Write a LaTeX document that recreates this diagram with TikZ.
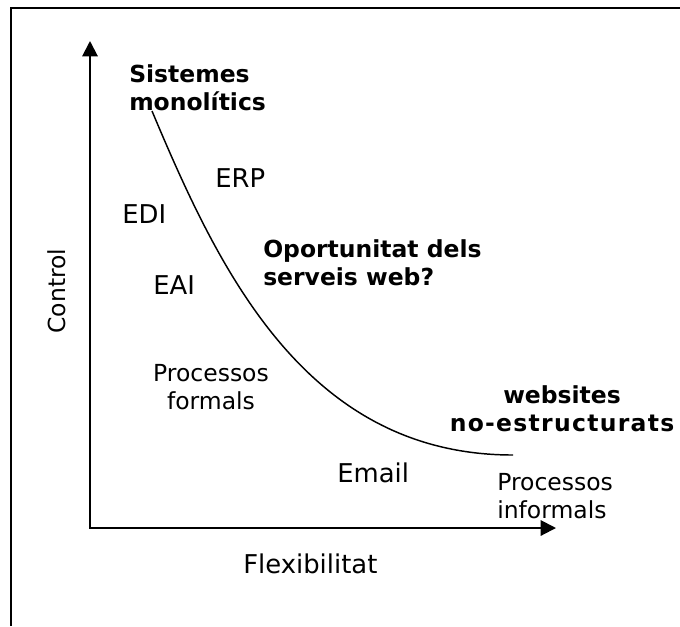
\documentclass[tikz,border=0pt]{standalone}
\usepackage{fontspec}
\setmainfont{DejaVu Sans}
\usetikzlibrary{arrows.meta}
\newcommand{\twol}[3]{\begin{tabular}[t]{@{}#1@{}}#2\\#3\end{tabular}}
\begin{document}
\begin{tikzpicture}[x=0.75pt,y=-0.75pt,
  lbl/.style={inner sep=0pt, anchor=base west},
  big/.style={font=\fontsize{19.4}{23}\selectfont},
  small/.style={font=\fontsize{17.6}{21}\selectfont},
  bld/.style={font=\fontsize{17.6}{21}\selectfont\bfseries},
  frame/.style={line width=1.5pt},
  axis/.style={line width=1.5pt, {Triangle[length=11.5pt,width=11.5pt]}-{Triangle[length=11.5pt,width=11.5pt]}},
  curve/.style={line width=1.1pt}]
\useasboundingbox (0,0) rectangle (680,626);
% frame (cropped box)
\coordinate (fbl) at (11,626);
\coordinate (ftl) at (11,8);
\coordinate (ftr) at (680,8);
\draw[frame] (fbl) -- (ftl) -- (ftr);
% axes
\coordinate (O) at (90,528);
\coordinate (ytip) at (90,41);
\coordinate (xtip) at (556,528);
\draw[axis] (ytip) -- (O) -- (xtip);
% curve
\coordinate (c0) at (152,111);
\coordinate (c1) at (513,455);
\draw[curve] (c0) .. controls (218,268) and (305,455) .. (c1);
% labels
\node[lbl,bld] (sis) at (129,82) {\twol{l}{Sistemes}{monolítics}};
\node[lbl,big] (erp) at (215,187) {ERP};
\node[lbl,big] (edi) at (122,223) {EDI};
\node[lbl,big] (eai) at (153,294) {EAI};
\node[lbl,bld] (opo) at (263,257) {\twol{l}{Oportunitat dels}{serveis web?}};
\node[small,inner sep=0pt,anchor=base] (pf) at (211,381) {\twol{c}{Processos}{formals}};
\node[bld,inner sep=0pt,anchor=base] (web) at (562,403) {\twol{c}{websites}{\addfontfeature{LetterSpace=5.5}no-estructurats}};
\node[lbl,big] (email) at (337,482) {Email};
\node[lbl,small] (pi) at (497,490) {\twol{l}{Processos}{informals}};
\node[lbl,big] (flex) at (243,573) {Flexibilitat};
\node[small,inner sep=0pt,rotate=90,anchor=base] (ctl) at (65,291) {Control};
\end{tikzpicture}
\end{document}
